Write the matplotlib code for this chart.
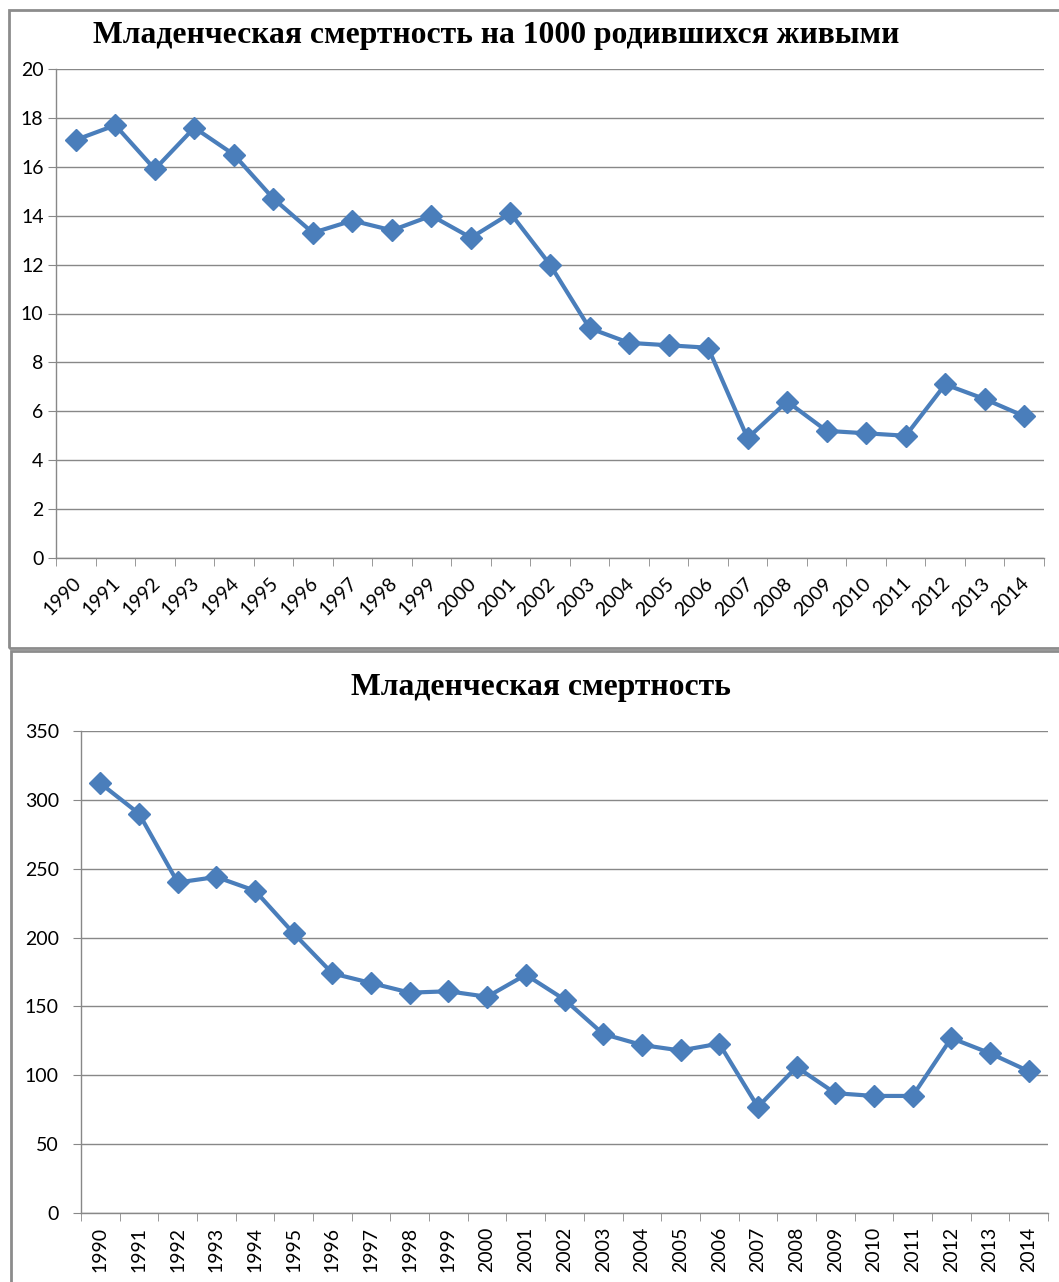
import matplotlib.pyplot as plt
from matplotlib.patches import Rectangle
import matplotlib.transforms as mtransforms
import numpy as np

# годы и данные
years = [str(y) for y in range(1990, 2015)]
rate_per_1000 = [17.1, 17.7, 15.9, 17.6, 16.5, 14.7, 13.3, 13.8, 13.4, 14.0,
                 13.1, 14.1, 12.0, 9.4, 8.8, 8.7, 8.6, 4.9, 6.4, 5.2,
                 5.1, 5.0, 7.1, 6.5, 5.8]
deaths = [312, 290, 240, 244, 234, 203, 174, 167, 160, 161,
          157, 173, 155, 130, 122, 118, 123, 77, 106, 87,
          85, 85, 127, 116, 103]

W, H = 1059, 1282
blue = '#4A7EBB'
grid_c = '#888888'
tick_font = 'Lato'
title_font = 'Liberation Serif'

fig = plt.figure(figsize=(W / 100, H / 100), dpi=100)


def px_axes(l, t, r, b):
    return fig.add_axes([l / W, 1 - b / H, (r - l) / W, (b - t) / H])


def style(ax, values, ymax, step, ypad):
    x = np.arange(len(values))
    ax.plot(x, values, color=blue, lw=3, marker='D', ms=11, zorder=3)
    ax.set_xlim(-0.5, len(values) - 0.5)
    ax.set_ylim(0, ymax)
    ax.set_yticks(np.arange(0, ymax + 1, step))
    ax.grid(axis='y', color=grid_c, lw=1)
    ax.set_axisbelow(True)
    for s in ['top', 'right']:
        ax.spines[s].set_visible(False)
    for s in ['left', 'bottom']:
        ax.spines[s].set_color(grid_c)
        ax.spines[s].set_linewidth(1)
    ax.set_xticks(x)
    ax.set_xticks(np.arange(-0.5, len(values)), minor=True)
    ax.tick_params(axis='x', which='major', length=0)
    ax.tick_params(axis='x', which='minor', length=6, color=grid_c)
    ax.tick_params(axis='y', length=6, color=grid_c, pad=ypad, labelsize=14)
    for lab in ax.get_yticklabels():
        lab.set_fontfamily(tick_font)


# рамки
fig.add_artist(Rectangle((9 / W, 1 - 648 / H), 1, 638 / H, transform=fig.transFigure,
                         fill=False, ec='#8c8c8c', lw=2))
fig.add_artist(Rectangle((11 / W, -0.01), 1, 1 - 651 / H + 0.01, transform=fig.transFigure,
                         fill=False, ec='#8c8c8c', lw=2))

# верхний график
ax1 = px_axes(56, 69, 1044, 558)
style(ax1, rate_per_1000, 20, 2, 3)
ax1.set_xticklabels(years, rotation=45, ha='right', fontsize=14, family=tick_font)
ax1.tick_params(axis='x', which='major', pad=12)
shift = mtransforms.ScaledTranslation(6 / 72, 0, fig.dpi_scale_trans)
for lab in ax1.get_xticklabels():
    lab.set_transform(lab.get_transform() + shift)
fig.text(496 / W, 1 - 35 / H, 'Младенческая смертность на 1000 родившихся живыми',
         ha='center', va='center', fontsize=22.8, fontweight='bold', family=title_font)

# нижний график
ax2 = px_axes(81, 731, 1048, 1213)
style(ax2, deaths, 350, 50, 10)
ax2.set_xticklabels(years, rotation=90, fontsize=14, family=tick_font)
ax2.tick_params(axis='x', which='major', pad=10)
fig.text(541 / W, 1 - 687 / H, 'Младенческая смертность',
         ha='center', va='center', fontsize=22.8, fontweight='bold', family=title_font)

fig.savefig('out.png', dpi=100)
